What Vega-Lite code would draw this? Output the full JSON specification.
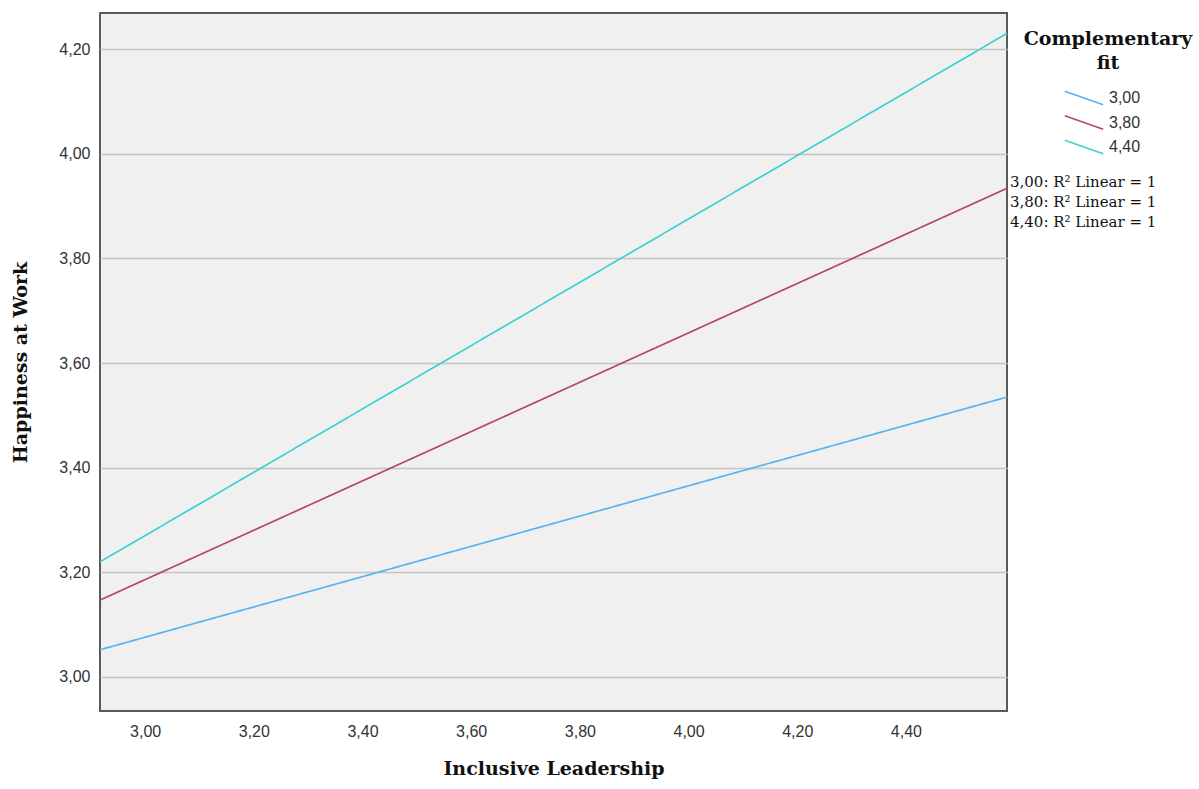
{
  "$schema": "https://vega.github.io/schema/vega-lite/v6.json",
  "width": 907,
  "height": 698,
  "autosize": {"type": "none"},
  "padding": {"left": 100, "top": 13, "right": 192, "bottom": 78},
  "background": "white",
  "config": {
    "view": {"fill": "#f0f0f0", "stroke": "#5a5a5a", "strokeWidth": 2},
    "axis": {
      "labelFont": "Liberation Sans",
      "labelFontSize": 16,
      "labelColor": "#333333",
      "titleFont": "DejaVu Serif",
      "titleFontWeight": "bold",
      "titleFontSize": 19,
      "titleColor": "#111111",
      "ticks": false,
      "domain": false
    }
  },
  "data": {
    "values": [
      {"il": 2.917, "hw": 3.052, "fit": "3,00", "r2": "3,00: R² Linear = 1"},
      {"il": 4.586, "hw": 3.535, "fit": "3,00", "r2": "3,00: R² Linear = 1"},
      {"il": 2.917, "hw": 3.147, "fit": "3,80", "r2": "3,80: R² Linear = 1"},
      {"il": 4.586, "hw": 3.934, "fit": "3,80", "r2": "3,80: R² Linear = 1"},
      {"il": 2.917, "hw": 3.220, "fit": "4,40", "r2": "4,40: R² Linear = 1"},
      {"il": 4.586, "hw": 4.230, "fit": "4,40", "r2": "4,40: R² Linear = 1"}
    ]
  },
  "mark": {"type": "line", "strokeWidth": 1.7, "clip": true},
  "encoding": {
    "x": {
      "field": "il",
      "type": "quantitative",
      "scale": {"domain": [2.917, 4.586], "nice": false, "zero": false},
      "axis": {
        "title": "Inclusive Leadership",
        "values": [3.0, 3.2, 3.4, 3.6, 3.8, 4.0, 4.2, 4.4],
        "labelExpr": "replace(format(datum.value, '.2f'), '.', ',')",
        "grid": false,
        "labelPadding": 12,
        "titlePadding": 20
      }
    },
    "y": {
      "field": "hw",
      "type": "quantitative",
      "scale": {"domain": [2.935, 4.269], "nice": false, "zero": false},
      "axis": {
        "title": "Happiness at Work",
        "values": [3.0, 3.2, 3.4, 3.6, 3.8, 4.0, 4.2],
        "labelExpr": "replace(format(datum.value, '.2f'), '.', ',')",
        "grid": true,
        "gridColor": "#c4c4c4",
        "gridWidth": 1.5,
        "labelPadding": 10,
        "titlePadding": 28
      }
    },
    "color": {
      "field": "fit",
      "type": "nominal",
      "scale": {"domain": ["3,00", "3,80", "4,40"], "range": ["#58b4f0", "#b5476e", "#3fd0d0"]},
      "legend": {
        "title": ["Complementary", "fit"],
        "orient": "none",
        "legendX": 924,
        "legendY": 17,
        "padding": 0,
        "titleFont": "DejaVu Serif",
        "titleFontWeight": "bold",
        "titleFontSize": 19,
        "titleLineHeight": 24,
        "titleColor": "#111111",
        "titleAnchor": "middle",
        "titleAlign": "center",
        "titlePadding": 16,
        "symbolType": "M-2.4,-0.85L2.4,0.85",
        "symbolSize": 256,
        "symbolStrokeWidth": 1.6,
        "labelFont": "Liberation Sans",
        "labelFontSize": 16,
        "labelColor": "#333333",
        "labelOffset": 16,
        "rowPadding": 4.5
      }
    },
    "strokeDash": {
      "field": "r2",
      "type": "nominal",
      "scale": {"range": [[1, 0], [1, 0], [1, 0]]},
      "legend": {
        "title": null,
        "orient": "none",
        "legendX": 895,
        "legendY": 161,
        "padding": 0,
        "symbolSize": 0,
        "symbolOpacity": 0,
        "labelOffset": 0,
        "labelFont": "DejaVu Serif",
        "labelFontSize": 15,
        "labelColor": "#111111",
        "rowPadding": 4
      }
    }
  }
}
